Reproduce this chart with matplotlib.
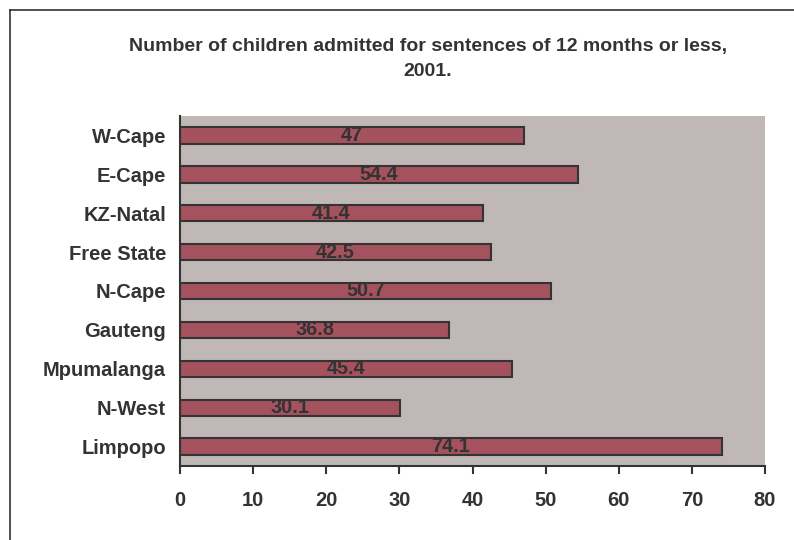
import matplotlib
matplotlib.use("Agg")
import matplotlib.pyplot as plt

provinces = ["W-Cape", "E-Cape", "KZ-Natal", "Free State", "N-Cape",
             "Gauteng", "Mpumalanga", "N-West", "Limpopo"]
admitted = [47, 54.4, 41.4, 42.5, 50.7, 36.8, 45.4, 30.1, 74.1]
xticks = [0, 10, 20, 30, 40, 50, 60, 70, 80]
title_lines = ["Number of children admitted for sentences of 12 months or less,", "2001."]

plt.rcParams['font.family'] = ['Liberation Sans', 'DejaVu Sans']
plt.rcParams['font.weight'] = 'bold'

fig = plt.figure(figsize=(7.94, 5.40), dpi=100)
ax = fig.add_axes([180 / 794, 74 / 540, 585 / 794, 350 / 540])

# frame line on left and top of the figure
fig.add_artist(plt.Line2D([9.5 / 794, 9.5 / 794], [0, 1 - 9.5 / 540], color='#333333', lw=1.2))
fig.add_artist(plt.Line2D([9.5 / 794, 1], [1 - 9.5 / 540, 1 - 9.5 / 540], color='#333333', lw=1.2))

ypos = list(range(len(provinces)))
ax.barh(ypos, admitted, height=0.42, color='#A5525F', edgecolor='#333333', linewidth=1.5)
for y, v in zip(ypos, admitted):
    ax.text(v / 2, y, f"{v:g}", ha='center', va='center', fontsize=14.3,
            fontweight='bold', color='#333333')

ax.set_facecolor('#C0B8B6')
ax.set_xlim(0, 80)
ax.set_ylim(len(provinces) - 0.5, -0.5)
ax.set_xticks(xticks)
ax.set_yticks(ypos)
ax.set_yticklabels(provinces)
ax.tick_params(axis='x', direction='out', length=6, width=1.5, color='#333333',
               labelsize=14.5, labelcolor='#333333', pad=12)
ax.tick_params(axis='y', length=0, labelsize=14.5, labelcolor='#333333', pad=10)
for s in ['top', 'right']:
    ax.spines[s].set_visible(False)
for s in ['left', 'bottom']:
    ax.spines[s].set_color('#333333')
    ax.spines[s].set_linewidth(1.5)

for i, line in enumerate(title_lines):
    fig.text(428 / 794, 1 - (47 + 24 * i) / 540, line, ha='center', va='center',
             fontsize=14, fontweight='bold', color='#333333')

fig.savefig("out.png", dpi=100, facecolor='white')
